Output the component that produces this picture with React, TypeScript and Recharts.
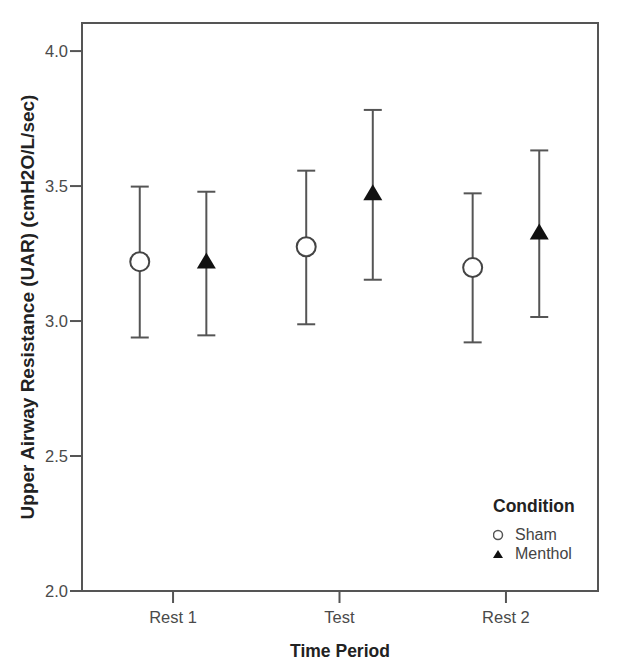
import {
  ErrorBar,
  Label,
  ReferenceArea,
  Scatter,
  ScatterChart,
  XAxis,
  YAxis,
} from "recharts";

const periods = ["Rest 1", "Test", "Rest 2"];
const conditions = ["Sham", "Menthol"];

const shamMean = [3.22, 3.275, 3.198];
const shamLow = [2.939, 2.988, 2.921];
const shamHigh = [3.498, 3.557, 3.473];

const mentholMean = [3.222, 3.475, 3.33];
const mentholLow = [2.947, 3.153, 3.015];
const mentholHigh = [3.479, 3.782, 3.632];

const yTicks = [2.0, 2.5, 3.0, 3.5, 4.0];

const FONT = '"Liberation Sans", Arial, sans-serif';
const LINE = "#555";
const X_DOMAIN: [number, number] = [-0.547, 2.553];
const Y_DOMAIN: [number, number] = [2.0, 4.104];
const DODGE = 0.2;

function toRows(mean: number[], low: number[], high: number[], shift: number) {
  return mean.map((m, i) => ({
    x: i + shift,
    y: m,
    err: [m - low[i], high[i] - m],
  }));
}

const shamRows = toRows(shamMean, shamLow, shamHigh, -DODGE);
const mentholRows = toRows(mentholMean, mentholLow, mentholHigh, DODGE);

const OpenCircle = (p: any) => (
  <circle cx={p.cx} cy={p.cy} r={9.5} fill="#fff" stroke="#444" strokeWidth={2} />
);

const FilledTriangle = (p: any) => (
  <path
    d={`M${p.cx},${p.cy - 8.5} L${p.cx + 9.5},${p.cy + 7.5} L${p.cx - 9.5},${p.cy + 7.5} Z`}
    fill="#111"
  />
);

const NoMark = () => <g />;

// legend sits inside the plot, lower right
function ConditionLegend() {
  return (
    <div style={{ position: "absolute", left: 485, top: 485, fontFamily: FONT, color: "#444" }}>
      <div style={{ fontWeight: "bold", fontSize: 17.5, lineHeight: "26px", color: "#222" }}>
        Condition
      </div>
      <div style={{ marginTop: 6 }}>
        {conditions.map((c, i) => (
          <div key={c} style={{ display: "flex", alignItems: "center", height: 19.5, fontSize: 16 }}>
            <svg width={22} height={19.5} style={{ flex: "none" }}>
              {i === 0 ? (
                <circle cx={5} cy={10} r={4.5} fill="#fff" stroke="#555" strokeWidth={1.5} />
              ) : (
                <path d="M5,5 L10,13 L0,13 Z" fill="#111" />
              )}
            </svg>
            <span>{c}</span>
          </div>
        ))}
      </div>
    </div>
  );
}

export default function App() {
  return (
    <div style={{ position: "relative", width: 609, height: 655 }}>
      <ScatterChart
        width={609}
        height={655}
        margin={{ top: 15, right: 19, bottom: 0, left: 0 }}
        style={{ fontFamily: FONT }}
      >
        <XAxis
          type="number"
          dataKey="x"
          domain={X_DOMAIN}
          ticks={[0, 1, 2]}
          allowDataOverflow
          tickFormatter={(i: number) => periods[i] ?? ""}
          height={72}
          tickSize={12}
          tickMargin={8}
          axisLine={{ stroke: LINE, strokeWidth: 2 }}
          tickLine={{ stroke: LINE, strokeWidth: 2 }}
          tick={{ fill: "#4a4a4a", fontSize: 16.5 }}
        >
          <Label
            value="Time Period"
            position="center"
            dy={24}
            style={{ fontWeight: "bold", fontSize: 17.5, fill: "#222" }}
          />
        </XAxis>
        <YAxis
          type="number"
          dataKey="y"
          domain={Y_DOMAIN}
          ticks={yTicks}
          allowDataOverflow
          tickFormatter={(v: number) => v.toFixed(1)}
          width={74}
          tickSize={12}
          tickMargin={2}
          axisLine={{ stroke: LINE, strokeWidth: 2 }}
          tickLine={{ stroke: LINE, strokeWidth: 2 }}
          tick={{ fill: "#4a4a4a", fontSize: 16.5 }}
        >
          <Label
            value="Upper Airway Resistance (UAR) (cmH2O/L/sec)"
            angle={-90}
            position="center"
            dx={-17.5}
            style={{ fontWeight: "bold", fontSize: 19, fill: "#222", textAnchor: "middle" }}
          />
        </YAxis>
        <ReferenceArea
          x1={X_DOMAIN[0]}
          x2={X_DOMAIN[1]}
          y1={Y_DOMAIN[0]}
          y2={Y_DOMAIN[1]}
          fill="none"
          stroke={LINE}
          strokeWidth={2}
          ifOverflow="visible"
        />
        {/* whiskers first so the open circles sit on top */}
        <Scatter data={shamRows} shape={NoMark} isAnimationActive={false}>
          <ErrorBar dataKey="err" direction="y" width={9} stroke={LINE} strokeWidth={2} />
        </Scatter>
        <Scatter data={mentholRows} shape={NoMark} isAnimationActive={false}>
          <ErrorBar dataKey="err" direction="y" width={9} stroke={LINE} strokeWidth={2} />
        </Scatter>
        <Scatter name="Sham" data={shamRows} shape={OpenCircle} isAnimationActive={false} />
        <Scatter name="Menthol" data={mentholRows} shape={FilledTriangle} isAnimationActive={false} />
      </ScatterChart>
      <ConditionLegend />
    </div>
  );
}
